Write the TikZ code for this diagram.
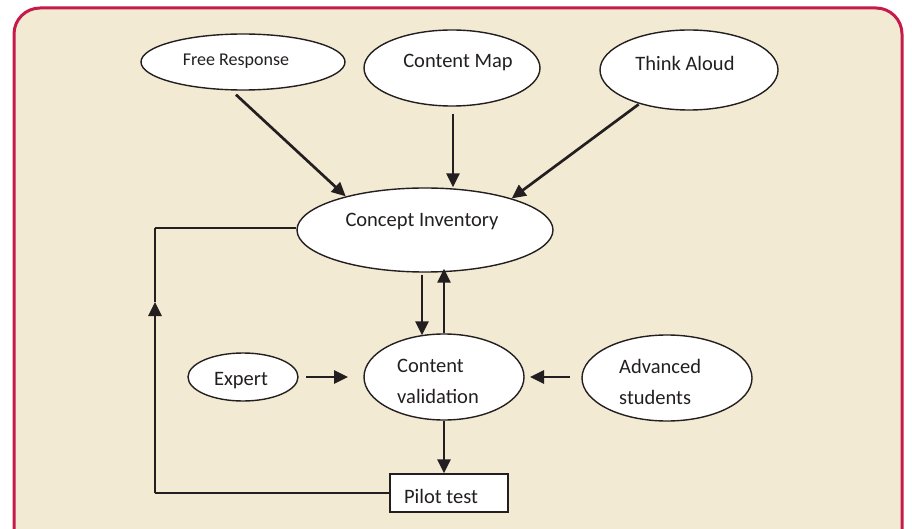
\documentclass[tikz,border=0pt]{standalone}
\usepackage{fontspec}
\setmainfont{Carlito}
\usetikzlibrary{shapes.geometric,arrows.meta,calc}
\definecolor{bgfill}{HTML}{F3EAD3}
\definecolor{frame}{HTML}{C61A4B}
\definecolor{ink}{HTML}{231F20}
\tikzset{
  ell/.style={ellipse,draw=ink,line width=1.4pt,fill=white,inner sep=0pt},
  txt/.style={text=ink,font=\fontsize{20.5}{24}\selectfont,inner sep=0pt},
  smalltxt/.style={text=ink,font=\fontsize{18}{21}\selectfont,inner sep=0pt},
  arr/.style={draw=ink,line width=2.7pt,-{Triangle[length=14pt,width=13pt]}},
  thinline/.style={draw=ink,line width=1.4pt},
  boxst/.style={draw=ink,line width=1.5pt,fill=white,inner sep=0pt}
}
\begin{document}
\begin{tikzpicture}[x=1pt,y=-1pt]
\useasboundingbox (0,0) rectangle (912,529);
\begin{scope}
\clip (0,0) rectangle (912,529);
\draw[frame,line width=3pt,fill=bgfill,rounded corners=26pt] (14,8) rectangle (902,560);
\end{scope}
% ellipses
\node[ell,minimum width=204pt,minimum height=56pt] (fr) at (243,62) {};
\node[smalltxt] at (236,61) {Free Response};
\node[ell,minimum width=176pt,minimum height=76pt] (cm) at (452,68) {};
\node[txt] at (458,63) {Content Map};
\node[ell,minimum width=178pt,minimum height=80pt] (ta) at (689,70) {};
\node[txt] at (685,63) {Think Aloud};
\node[ell,minimum width=256pt,minimum height=84pt] (ci) at (425,230) {};
\node[txt] at (422,222) {Concept Inventory};
\node[ell,minimum width=160pt,minimum height=86pt] (cv) at (444,377) {};
\node[txt,align=left,anchor=north west,font=\fontsize{20.5}{31}\selectfont] at (397,359) {Content\\validation};
\node[ell,minimum width=110pt,minimum height=48pt] (ex) at (243,377) {};
\node[txt] at (241,381) {Expert};
\node[ell,minimum width=170pt,minimum height=86pt] (as) at (667,378) {};
\node[txt,align=left,anchor=north west,font=\fontsize{20.5}{31}\selectfont] at (619,359) {Advanced\\students};
\node[boxst,minimum width=118pt,minimum height=38pt] (pt) at (449,493) {};
\node[txt] at (441,496) {Pilot test};
% arrows
\draw[arr] ($(fr.south)+(-7,4)$) -- (ci.157);
\draw[arr] ($(cm.south)+(1,7)$) -- (ci.north -| {(453,0)});
\draw[arr] ($(ta.213)+(1,1)$) -- (ci.20);
\draw[arr] ($(ci.south)+(-3,2)$) -- ($(cv.north)+(-22,2)$);
\draw[arr] (cv.north) -- ($(cv.north |- ci.south)+(0,-4)$);
\coordinate (exr) at (306,377);
\coordinate (exa) at (348,377);
\draw[arr] (exr) -- (exa);
\coordinate (asl) at (570,377);
\coordinate (asa) at (530,377);
\draw[arr] (asl) -- (asa);
\draw[arr] (cv.south) -- (pt.north -| cv.south);
% feedback loop
\coordinate (fb1) at (155,493);
\coordinate (fbm) at (155,302);
\coordinate (fb2) at (155,228);
\draw[thinline] (pt.west) -- (fb1);
\draw[arr] (fb1) -- (fbm);
\draw[draw=ink,line width=2.2pt] (fbm) -- (fb2);
\draw[thinline] (fb2) -- (fb2 -| ci.west);
\end{tikzpicture}
\end{document}
